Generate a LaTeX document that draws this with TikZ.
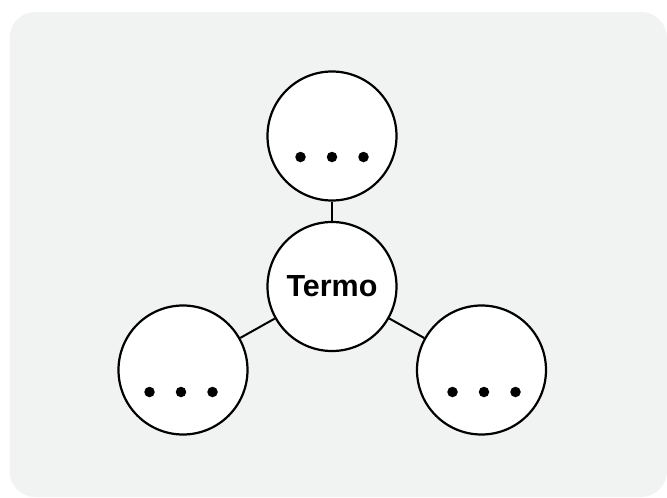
\documentclass[tikz,border=0pt]{standalone}
\usepackage{fontspec}
\setmainfont{Liberation Sans}
\definecolor{bgpanel}{HTML}{F0F3F2}
\begin{document}
\begin{tikzpicture}[x=1pt,y=-1pt,
  bubble/.style={circle,draw=black,fill=white,line width=2.2pt,minimum size=129pt,inner sep=0pt},
  link/.style={draw=black,line width=2pt},
  dotmark/.style={circle,fill=black,inner sep=0pt,minimum size=10.5pt}]
\useasboundingbox (0,0) rectangle (667,498);
\fill[bgpanel,rounded corners=26pt] (9.5,12) rectangle (667,497);
\node[bubble] (top) at (332,136) {};
\node[bubble] (left) at (183,370) {};
\node[bubble] (right) at (481.5,370) {};
\node[bubble,font=\fontsize{30.5}{30.5}\selectfont\bfseries] (center) at (332,286.5) {Termo};
\draw[link] (center) -- (top);
\draw[link] (center) -- (left);
\draw[link] (center) -- (right);
\foreach \n/\cx/\cy in {top/332/157, left/181/392, right/484/392}{
  \node[dotmark] (\n d1) at (\cx-31.5,\cy) {};
  \node[dotmark] (\n d2) at (\cx,\cy) {};
  \node[dotmark] (\n d3) at (\cx+31.5,\cy) {};
}
\end{tikzpicture}
\end{document}
